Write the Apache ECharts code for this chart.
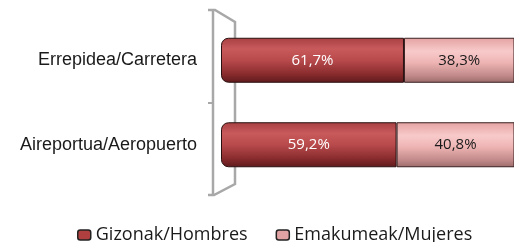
<!DOCTYPE html>
<html>
<head>
<meta charset="utf-8">
<script src="https://cdn.jsdelivr.net/npm/echarts@6/dist/echarts.min.js"></script>
<style>
    html, body { margin: 0; padding: 0; background: #fff; }
</style>
</head>
<body>
<div id="main" style="width: 514px; height: 242px;"></div>

<script type="text/javascript">
    // categorias (de abajo a arriba) y porcentajes
    var categorias = ['Aireportua/Aeropuerto', 'Errepidea/Carretera'];
    var hombres = [59.2, 61.7];
    var mujeres = [40.8, 38.3];
    var nombres = ['Gizonak/Hombres', 'Emakumeak/Mujeres'];

    var myChart = echarts.init(document.getElementById('main'));

    function fmt(p) {
        return String(p.value.toFixed(1)).replace('.', ',') + '%';
    }

    var rojo = new echarts.graphic.LinearGradient(0, 0, 0, 1, [
        { offset: 0, color: '#a84042' },
        { offset: 0.25, color: '#c85a5c' },
        { offset: 0.5, color: '#b84a4c' },
        { offset: 0.8, color: '#8a2c2e' },
        { offset: 1, color: '#5e1a1c' }
    ]);
    var rosa = new echarts.graphic.LinearGradient(0, 0, 0, 1, [
        { offset: 0, color: '#e4a2a2' },
        { offset: 0.3, color: '#f8caca' },
        { offset: 0.55, color: '#eeb4b4' },
        { offset: 0.85, color: '#c08888' },
        { offset: 1, color: '#9a6a6a' }
    ]);

    var gris = '#a8a8a8';

    option = {
        animation: false,
        grid: { left: 221, right: 0, top: 18, bottom: 55 },
        xAxis: { type: 'value', min: 0, max: 98.8, show: false },
        yAxis: [
            {
                type: 'category',
                data: categorias,
                offset: 8,
                axisLine: { show: false },
                axisTick: { show: false },
                axisLabel: {
                    margin: 16,
                    color: '#1a1a1a',
                    fontFamily: 'Liberation Sans',
                    fontSize: 18
                }
            },
            {
                // solo la marca central entre las dos categorias
                type: 'value',
                position: 'left',
                min: 0,
                max: categorias.length,
                offset: 8,
                axisLine: { show: false },
                axisLabel: { show: false },
                splitLine: { show: false },
                axisTick: {
                    show: true,
                    length: 5,
                    customValues: [1],
                    lineStyle: { color: gris, width: 2 }
                }
            }
        ],
        legend: {
            left: 72,
            top: 221,
            itemWidth: 13,
            itemHeight: 10,
            itemGap: 28,
            textStyle: { fontFamily: 'Open Sans', fontSize: 18, color: '#1a1a1a' },
            data: [
                { name: nombres[0], itemStyle: { color: '#b0403f', borderColor: '#222', borderWidth: 1.5 } },
                { name: nombres[1], itemStyle: { color: '#e0a2a2', borderColor: '#222', borderWidth: 1.5 } }
            ]
        },
        graphic: [
            {
                type: 'polyline',
                z: 0,
                shape: { points: [[208, 10], [215, 10], [235, 22], [235, 184], [214, 195], [208, 195]] },
                style: { stroke: gris, lineWidth: 2.5, fill: null }
            },
            {
                type: 'line',
                z: 0,
                shape: { x1: 213, y1: 10, x2: 213, y2: 195 },
                style: { stroke: gris, lineWidth: 2.5 }
            }
        ],
        series: [
            {
                name: nombres[0],
                type: 'bar',
                stack: 'total',
                barWidth: 45,
                z: 3,
                data: hombres,
                itemStyle: {
                    color: rojo,
                    borderColor: '#2a1010',
                    borderWidth: 1,
                    borderRadius: [7, 0, 0, 7]
                },
                label: {
                    show: true,
                    position: 'inside',
                    formatter: fmt,
                    color: '#ffffff',
                    fontFamily: 'Open Sans',
                    fontSize: 15
                }
            },
            {
                name: nombres[1],
                type: 'bar',
                stack: 'total',
                barWidth: 45,
                z: 3,
                data: mujeres,
                itemStyle: {
                    color: rosa,
                    borderColor: '#3a2020',
                    borderWidth: 1
                },
                label: {
                    show: true,
                    position: 'inside',
                    formatter: fmt,
                    color: '#1a1a1a',
                    fontFamily: 'Open Sans',
                    fontSize: 15
                }
            }
        ]
    };

    myChart.setOption(option);
</script>
</body>
</html>
